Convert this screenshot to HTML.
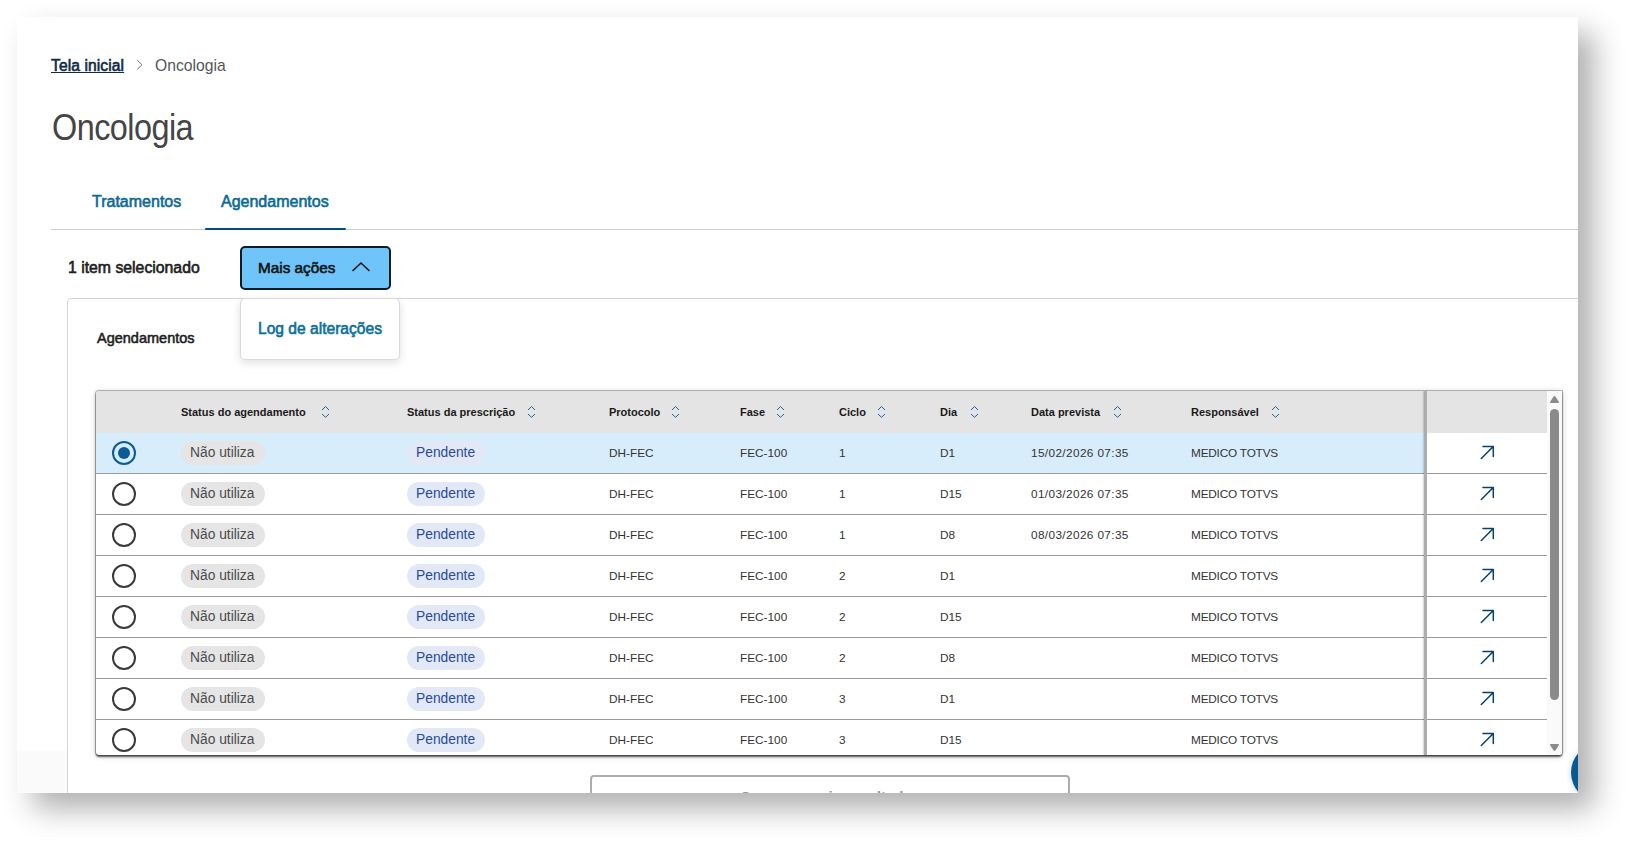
<!DOCTYPE html>
<html><head><meta charset="utf-8">
<style>
*{box-sizing:border-box;margin:0;padding:0}
html,body{width:1626px;height:841px;overflow:hidden;background:#fff;font-family:"Liberation Sans",sans-serif}
.win{position:absolute;left:17px;top:17px;width:1561px;height:776px;background:#fff;overflow:hidden;
 box-shadow:16px 16px 28px rgba(0,0,0,.31)}
.pg{position:absolute;left:-17px;top:-17px;width:1626px;height:841px}
.a{position:absolute;white-space:nowrap;line-height:1}
.bc1{left:51px;top:58px;font-size:15.6px;-webkit-text-stroke:.6px #0f2b45;color:#0f2b45;text-decoration:underline;text-underline-offset:1.2px;letter-spacing:.1px}
.bc2{left:155px;top:57.8px;font-size:15.7px;color:#555}
.title{left:52px;top:110px;font-size:36px;color:#454545;letter-spacing:-0.6px;transform:scaleX(0.9);transform-origin:0 0}
.tab{top:194px;font-size:16px;-webkit-text-stroke:.6px #0d6a95;color:#0d6a95}
.tabline{left:51px;top:229px;width:1600px;height:1px;background:#cccccc}
.tabact{left:205px;top:228px;width:141px;height:2px;border-radius:1px;background:#034b86}
.sel{left:68px;top:260px;font-size:15.8px;-webkit-text-stroke:.6px #1d1d1d;color:#1d1d1d}
.btn{left:240px;top:246px;width:151px;height:44px;background:#6fc5f9;border:2px solid #0e1b29;border-radius:5px}
.btnt{left:258px;top:260px;font-size:15.3px;-webkit-text-stroke:.6px #141414;color:#141414}
.lgray{left:17px;top:751px;width:50px;height:50px;background:#fafafa}
.card{left:67px;top:298px;width:1600px;height:600px;border:1px solid #d4d4d4;border-radius:4px}
.cardl{left:97px;top:331px;font-size:14.5px;-webkit-text-stroke:.55px #1d1d1d;color:#1d1d1d}
.more{left:590px;top:775px;width:480px;height:44px;border:2px solid #acacac;border-radius:4px}
.moret{left:740px;top:789px;font-size:15px;font-weight:700;color:#999}
.fab{left:1571px;top:743.3px;width:59px;height:59px;border-radius:50%;background:#075b93;box-shadow:0 1px 6px rgba(0,0,0,.18)}
.dd{left:240px;top:298px;width:160px;height:62px;background:#fff;border:1px solid #d9d9d9;border-radius:5px;box-shadow:0 3px 8px rgba(0,0,0,.12)}
.ddt{left:258px;top:321px;font-size:15.6px;-webkit-text-stroke:.6px #0c7097;color:#0c7097}
.tbl{left:96px;top:391px;width:1466px;height:364px;background:#fff;border-radius:3px 0 3px 3px;box-shadow:0 0 0 1px rgba(0,0,0,.24),0 1.5px 2px 0 rgba(0,0,0,.6),0 1px 6px 0 rgba(0,0,0,.22);overflow:hidden}
.th{position:absolute;left:0;top:0;width:1451px;height:42px;background:#e4e4e4}
.hd{top:16px;font-size:11px;font-weight:700;color:#1a1a1a}
.srt{position:absolute;top:14px;width:9px;height:14px}
.row{position:absolute;left:0;width:1451px;height:41px;border-bottom:1px solid #9b9b9b}
.row.s{background:#d8edfb}
.c{position:absolute;top:15px;font-size:11.8px;color:#333;line-height:1}
.tag{position:absolute;top:8px;height:24px;border-radius:12px;font-size:13.8px;line-height:24px;padding-left:9px}
.t1{left:85px;width:84px;background:#e5e5e5;color:#4b4b4b}
.t2{left:311px;width:78px;background:#e3e8f6;color:#274c99}
.rad{position:absolute;left:16px;top:8px;width:24px;height:24px;border-radius:50%;border:2px solid #3a3a3a}
.rad.on{border-color:#0b5c94}
.rad.on::after{content:"";position:absolute;left:4px;top:4px;width:12px;height:12px;border-radius:50%;background:#0b5c94}
.sep{position:absolute;left:1328px;top:0;width:3px;height:364px;background:#adadad;box-shadow:-1px 0 2px rgba(0,0,0,.18)}
.stk{position:absolute;left:1331px;top:0;width:120px;height:364px;background:#fff}
.stkh{position:absolute;left:0;top:0;width:120px;height:42px;background:#e4e4e4}
.stk .srow{position:absolute;left:0;width:120px;height:41px;border-bottom:1px solid #9b9b9b}
.arr{position:absolute;left:53px;width:15px;height:15px}
.sb{position:absolute;left:1451px;top:0;width:15px;height:364px;background:#fafafa}
.sbu,.sbd{position:absolute;left:2px;width:11px;height:9px}
.sbu{top:4px}
.sbt{position:absolute;left:3px;top:18px;width:9px;height:291px;border-radius:5px;background:#8a8a8a}
.sbd{top:352px}

</style></head><body>
<div class="win"><div class="pg">
 <div class="a bc1">Tela inicial</div>
 <svg class="a" style="left:135px;top:59px" width="10" height="12" viewBox="0 0 10 12"><path d="M2.3 1.2 L7 5.8 L2.3 10.4" fill="none" stroke="#5a5a5a" stroke-width="0.85"/></svg>
 <div class="a bc2">Oncologia</div>
 <div class="a title">Oncologia</div>
 <div class="a tab" style="left:92px">Tratamentos</div>
 <div class="a tab" style="left:221px">Agendamentos</div>
 <div class="a tabline"></div>
 <div class="a tabact"></div>
 <div class="a sel">1 item selecionado</div>
 <div class="a btn"></div>
 <div class="a btnt">Mais ações</div>
 <svg class="a" style="left:351px;top:261px" width="20" height="12" viewBox="0 0 20 12"><path d="M1.5 10 L10 2 L18.5 10" fill="none" stroke="#141414" stroke-width="1.6"/></svg>
 <div class="a lgray"></div>
 <div class="a card"></div>
 <div class="a cardl">Agendamentos</div>
 <div class="a more"></div>
 <div class="a moret">Carregar mais resultados</div>
 <div class="a fab"></div>
 <div class="a tbl"><div class="th"></div>
 <div class="a hd" style="left:85px">Status do agendamento</div><svg class="srt" style="left:225px" viewBox="0 0 9 14"><path d="M1 5 L4.5 1.5 L8 5 M1 9 L4.5 12.3 L8 9" fill="none" stroke="#1b63a8" stroke-width="1"/></svg>
 <div class="a hd" style="left:311px">Status da prescrição</div><svg class="srt" style="left:431px" viewBox="0 0 9 14"><path d="M1 5 L4.5 1.5 L8 5 M1 9 L4.5 12.3 L8 9" fill="none" stroke="#1b63a8" stroke-width="1"/></svg>
 <div class="a hd" style="left:513px">Protocolo</div><svg class="srt" style="left:575px" viewBox="0 0 9 14"><path d="M1 5 L4.5 1.5 L8 5 M1 9 L4.5 12.3 L8 9" fill="none" stroke="#1b63a8" stroke-width="1"/></svg>
 <div class="a hd" style="left:644px">Fase</div><svg class="srt" style="left:680px" viewBox="0 0 9 14"><path d="M1 5 L4.5 1.5 L8 5 M1 9 L4.5 12.3 L8 9" fill="none" stroke="#1b63a8" stroke-width="1"/></svg>
 <div class="a hd" style="left:743px">Ciclo</div><svg class="srt" style="left:780.5px" viewBox="0 0 9 14"><path d="M1 5 L4.5 1.5 L8 5 M1 9 L4.5 12.3 L8 9" fill="none" stroke="#1b63a8" stroke-width="1"/></svg>
 <div class="a hd" style="left:844px">Dia</div><svg class="srt" style="left:873.5px" viewBox="0 0 9 14"><path d="M1 5 L4.5 1.5 L8 5 M1 9 L4.5 12.3 L8 9" fill="none" stroke="#1b63a8" stroke-width="1"/></svg>
 <div class="a hd" style="left:935px">Data prevista</div><svg class="srt" style="left:1017px" viewBox="0 0 9 14"><path d="M1 5 L4.5 1.5 L8 5 M1 9 L4.5 12.3 L8 9" fill="none" stroke="#1b63a8" stroke-width="1"/></svg>
 <div class="a hd" style="left:1095px">Responsável</div><svg class="srt" style="left:1174.5px" viewBox="0 0 9 14"><path d="M1 5 L4.5 1.5 L8 5 M1 9 L4.5 12.3 L8 9" fill="none" stroke="#1b63a8" stroke-width="1"/></svg>
 <div class="row s" style="top:42px"><div class="rad on"></div><div class="tag t1">Não utiliza</div><div class="tag t2">Pendente</div><div class="c" style="left:513px">DH-FEC</div><div class="c" style="left:644px">FEC-100</div><div class="c" style="left:743px">1</div><div class="c" style="left:844px">D1</div><div class="c" style="left:935px;letter-spacing:0.37px">15/02/2026 07:35</div><div class="c" style="left:1095px;letter-spacing:-0.2px">MEDICO TOTVS</div></div>
 <div class="row" style="top:83px"><div class="rad"></div><div class="tag t1">Não utiliza</div><div class="tag t2">Pendente</div><div class="c" style="left:513px">DH-FEC</div><div class="c" style="left:644px">FEC-100</div><div class="c" style="left:743px">1</div><div class="c" style="left:844px">D15</div><div class="c" style="left:935px;letter-spacing:0.37px">01/03/2026 07:35</div><div class="c" style="left:1095px;letter-spacing:-0.2px">MEDICO TOTVS</div></div>
 <div class="row" style="top:124px"><div class="rad"></div><div class="tag t1">Não utiliza</div><div class="tag t2">Pendente</div><div class="c" style="left:513px">DH-FEC</div><div class="c" style="left:644px">FEC-100</div><div class="c" style="left:743px">1</div><div class="c" style="left:844px">D8</div><div class="c" style="left:935px;letter-spacing:0.37px">08/03/2026 07:35</div><div class="c" style="left:1095px;letter-spacing:-0.2px">MEDICO TOTVS</div></div>
 <div class="row" style="top:165px"><div class="rad"></div><div class="tag t1">Não utiliza</div><div class="tag t2">Pendente</div><div class="c" style="left:513px">DH-FEC</div><div class="c" style="left:644px">FEC-100</div><div class="c" style="left:743px">2</div><div class="c" style="left:844px">D1</div><div class="c" style="left:1095px;letter-spacing:-0.2px">MEDICO TOTVS</div></div>
 <div class="row" style="top:206px"><div class="rad"></div><div class="tag t1">Não utiliza</div><div class="tag t2">Pendente</div><div class="c" style="left:513px">DH-FEC</div><div class="c" style="left:644px">FEC-100</div><div class="c" style="left:743px">2</div><div class="c" style="left:844px">D15</div><div class="c" style="left:1095px;letter-spacing:-0.2px">MEDICO TOTVS</div></div>
 <div class="row" style="top:247px"><div class="rad"></div><div class="tag t1">Não utiliza</div><div class="tag t2">Pendente</div><div class="c" style="left:513px">DH-FEC</div><div class="c" style="left:644px">FEC-100</div><div class="c" style="left:743px">2</div><div class="c" style="left:844px">D8</div><div class="c" style="left:1095px;letter-spacing:-0.2px">MEDICO TOTVS</div></div>
 <div class="row" style="top:288px"><div class="rad"></div><div class="tag t1">Não utiliza</div><div class="tag t2">Pendente</div><div class="c" style="left:513px">DH-FEC</div><div class="c" style="left:644px">FEC-100</div><div class="c" style="left:743px">3</div><div class="c" style="left:844px">D1</div><div class="c" style="left:1095px;letter-spacing:-0.2px">MEDICO TOTVS</div></div>
 <div class="row" style="top:329px"><div class="rad"></div><div class="tag t1">Não utiliza</div><div class="tag t2">Pendente</div><div class="c" style="left:513px">DH-FEC</div><div class="c" style="left:644px">FEC-100</div><div class="c" style="left:743px">3</div><div class="c" style="left:844px">D15</div><div class="c" style="left:1095px;letter-spacing:-0.2px">MEDICO TOTVS</div></div>
 <div class="sep"></div><div class="stk"><div class="stkh"></div><div class="srow" style="top:42px"></div><svg class="arr" style="top:54px" viewBox="0 0 15 15"><path d="M1.3 13.5 L13 1.8 M3 1.5 H13.3 V11.6" fill="none" stroke="#07416e" stroke-width="1.5" stroke-linecap="round" stroke-linejoin="round"/></svg><div class="srow" style="top:83px"></div><svg class="arr" style="top:95px" viewBox="0 0 15 15"><path d="M1.3 13.5 L13 1.8 M3 1.5 H13.3 V11.6" fill="none" stroke="#07416e" stroke-width="1.5" stroke-linecap="round" stroke-linejoin="round"/></svg><div class="srow" style="top:124px"></div><svg class="arr" style="top:136px" viewBox="0 0 15 15"><path d="M1.3 13.5 L13 1.8 M3 1.5 H13.3 V11.6" fill="none" stroke="#07416e" stroke-width="1.5" stroke-linecap="round" stroke-linejoin="round"/></svg><div class="srow" style="top:165px"></div><svg class="arr" style="top:177px" viewBox="0 0 15 15"><path d="M1.3 13.5 L13 1.8 M3 1.5 H13.3 V11.6" fill="none" stroke="#07416e" stroke-width="1.5" stroke-linecap="round" stroke-linejoin="round"/></svg><div class="srow" style="top:206px"></div><svg class="arr" style="top:218px" viewBox="0 0 15 15"><path d="M1.3 13.5 L13 1.8 M3 1.5 H13.3 V11.6" fill="none" stroke="#07416e" stroke-width="1.5" stroke-linecap="round" stroke-linejoin="round"/></svg><div class="srow" style="top:247px"></div><svg class="arr" style="top:259px" viewBox="0 0 15 15"><path d="M1.3 13.5 L13 1.8 M3 1.5 H13.3 V11.6" fill="none" stroke="#07416e" stroke-width="1.5" stroke-linecap="round" stroke-linejoin="round"/></svg><div class="srow" style="top:288px"></div><svg class="arr" style="top:300px" viewBox="0 0 15 15"><path d="M1.3 13.5 L13 1.8 M3 1.5 H13.3 V11.6" fill="none" stroke="#07416e" stroke-width="1.5" stroke-linecap="round" stroke-linejoin="round"/></svg><div class="srow" style="top:329px"></div><svg class="arr" style="top:341px" viewBox="0 0 15 15"><path d="M1.3 13.5 L13 1.8 M3 1.5 H13.3 V11.6" fill="none" stroke="#07416e" stroke-width="1.5" stroke-linecap="round" stroke-linejoin="round"/></svg></div>
 <div class="sb"><svg class="sbu" viewBox="0 0 11 9"><polygon points="1.8,7.2 5.5,1.8 9.2,7.2" fill="#8a8a8a" stroke="#8a8a8a" stroke-width="1.6" stroke-linejoin="round"/></svg><div class="sbt"></div><svg class="sbd" viewBox="0 0 11 9"><polygon points="1.8,1.8 5.5,7.2 9.2,1.8" fill="#8a8a8a" stroke="#8a8a8a" stroke-width="1.6" stroke-linejoin="round"/></svg></div>
 </div>
 <div class="a dd"></div>
 <div class="a ddt">Log de alterações</div>
</div></div>
</body></html>
